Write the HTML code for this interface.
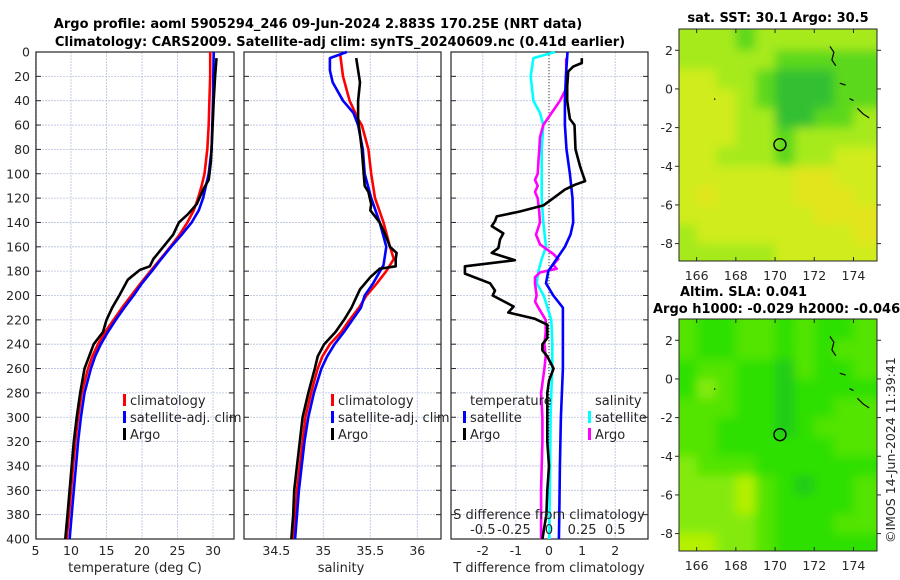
<!DOCTYPE html>
<html><head><meta charset="utf-8"><style>
html,body{margin:0;padding:0;background:#fff;}
svg{display:block;font-family:"DejaVu Sans","Liberation Sans",sans-serif;}
.tk{font-size:12.5px;fill:#262626;}
.tt{font-size:13px;font-weight:bold;fill:#000;}
.lg{font-size:13px;fill:#262626;}
</style></head><body>
<svg id="chart" width="900" height="580" viewBox="0 0 900 580" xmlns="http://www.w3.org/2000/svg">
<defs>
<filter id="blur" x="-5%" y="-5%" width="110%" height="110%"><feGaussianBlur stdDeviation="5"/></filter>
<clipPath id="clipSst"><rect x="679" y="29" width="198" height="232"/></clipPath>
<clipPath id="clipSla"><rect x="679" y="319" width="198" height="232"/></clipPath>
</defs>
<text class="tt" x="318" y="28" text-anchor="middle">Argo profile: aoml 5905294_246 09-Jun-2024 2.883S 170.25E (NRT data)</text>
<text class="tt" x="340" y="46" text-anchor="middle">Climatology: CARS2009. Satellite-adj clim: synTS_20240609.nc (0.41d earlier)</text>
<text class="tt" x="778" y="22" text-anchor="middle">sat. SST: 30.1 Argo: 30.5</text>
<text class="tt" x="680" y="296">Altim. SLA: 0.041</text>
<text class="tt" x="653" y="313">Argo h1000: -0.029 h2000: -0.046</text>
<text class="tk" transform="translate(895,543) rotate(-90)">©IMOS 14-Jun-2024 11:39:41</text>
<g id="plots"></g>
</svg>
<script>
const depthTicks=[0,20,40,60,80,100,120,140,160,180,200,220,240,260,280,300,320,340,360,380,400];
const tTicks=[5,10,15,20,25,30];
const sTicks=[34.5,35,35.5,36];
const tdTicks=[-2,-1,0,1,2];
const sdTickVals=[-0.5,-0.25,0,0.25,0.5];
const sdTickLabels=["-0.5","-0.25","0","0.25","0.5"];

const tClimD=[0,20,40,60,80,100,110,120,130,140,150,160,170,180,190,200,210,220,230,240,250,260,280,300,320,340,360,380,400];
const tClimV=[29.6,29.6,29.5,29.4,29.2,28.8,28.4,27.9,27.3,26.4,25.3,24.0,22.6,21.2,19.8,18.5,17.2,16.0,14.8,13.8,13.0,12.4,11.5,11.0,10.6,10.3,10.0,9.7,9.4];
const tSatD=[0,40,80,100,110,120,130,140,150,160,170,180,190,200,210,220,230,240,250,260,280,300,320,340,360,380,400];
const tSatV=[30.1,30.0,29.8,29.4,29.0,28.6,28.0,27.0,25.6,24.1,22.7,21.4,20.0,18.8,17.5,16.3,15.2,14.2,13.4,12.8,11.9,11.4,11.0,10.7,10.4,10.1,9.8];
const tArgoD=[5,20,40,67,90,105,112,125,133,140,150,160,170,176,179,187,200,210,220,230,240,260,280,300,320,340,360,380,400];
const tArgoV=[30.5,30.3,30.1,29.9,29.7,29.4,28.7,27.7,26.5,25.2,24.4,23.0,21.6,21.1,19.7,18.0,16.8,15.8,15.0,14.5,13.2,11.9,11.3,10.8,10.4,10.1,9.8,9.5,9.2];

const sClimD=[2,20,40,55,60,80,100,120,140,160,170,180,190,200,210,220,230,240,250,260,280,300,320,340,360,380,400];
const sClimV=[35.18,35.21,35.28,35.37,35.41,35.48,35.51,35.55,35.64,35.71,35.75,35.67,35.57,35.46,35.38,35.28,35.19,35.07,34.99,34.94,34.87,34.81,34.78,34.75,34.72,34.70,34.68];
const sSatD=[0,5,15,25,40,50,60,80,100,120,140,160,175,190,200,210,220,230,240,250,260,280,300,320,340,360,380,400];
const sSatV=[35.25,35.07,35.07,35.10,35.21,35.32,35.37,35.42,35.44,35.51,35.60,35.67,35.64,35.53,35.44,35.40,35.31,35.22,35.12,35.04,34.98,34.90,34.84,34.80,34.77,34.74,34.72,34.70];
const sArgoD=[5,25,40,55,80,100,110,115,125,130,140,150,160,165,170,176,178,185,195,200,210,220,230,240,250,260,280,300,320,340,360,380,400];
const sArgoV=[35.35,35.39,35.37,35.37,35.41,35.43,35.44,35.48,35.51,35.50,35.60,35.66,35.71,35.78,35.77,35.77,35.60,35.50,35.39,35.36,35.30,35.22,35.13,35.01,34.94,34.91,34.84,34.78,34.75,34.72,34.69,34.68,34.66];

const dtArgoD=[5,9,12,16,28,40,55,60,80,94,102,106,109,113,119,126,131,135,139,143,149,154,161,165,171,176,182,190,196,200,209,214,219,224,235,240,245,250,260,270,280,300,320,340,360,380,400];
const dtArgoV=[0.99,0.99,0.73,0.58,0.55,0.55,0.63,0.77,0.80,0.94,1.04,1.09,0.79,0.48,0.18,-0.17,-0.88,-1.58,-1.63,-1.73,-1.38,-1.48,-1.53,-1.73,-1.03,-2.54,-2.54,-1.78,-1.63,-1.7,-1.07,-1.23,-0.44,-0.05,-0.05,-0.2,-0.2,-0.05,0.14,0.0,-0.05,-0.05,-0.05,0.0,-0.05,-0.08,-0.2];
const dtSatD=[0,20,40,60,80,100,120,140,150,160,170,180,190,200,210,220,240,260,300,340,380,400];
const dtSatV=[0.56,0.51,0.48,0.48,0.53,0.63,0.71,0.73,0.65,0.48,0.23,-0.02,-0.09,0.13,0.42,0.42,0.42,0.42,0.36,0.33,0.31,0.30];
const dsSatD=[0,5,20,40,50,60,80,100,120,140,160,170,180,190,200,220,240,260,280,300,340,380,400];
const dsSatV=[0.045,-0.118,-0.138,-0.118,-0.068,-0.043,-0.055,-0.055,-0.055,-0.043,-0.023,-0.055,-0.08,-0.093,-0.04,0.017,0.025,0.025,0.017,0.012,0.008,0.004,0.002];
const dsArgoD=[5,20,30,40,50,60,70,80,90,100,105,110,115,120,130,140,150,158,162,166,170,173,175,178,181,185,190,200,205,210,220,230,240,250,260,280,300,320,340,360,380,400];
const dsArgoV=[0.13,0.13,0.13,0.083,0.02,-0.043,-0.068,-0.073,-0.08,-0.085,-0.106,-0.085,-0.106,-0.085,-0.075,-0.068,-0.098,-0.068,-0.018,0.033,0.07,0.045,0.033,0.058,-0.068,-0.106,-0.106,-0.094,-0.105,-0.08,-0.025,-0.025,-0.035,-0.025,-0.035,-0.06,-0.05,-0.05,-0.055,-0.06,-0.06,-0.06];

const lonTicks=[166,168,170,172,174];
const latTicks=[2,0,-2,-4,-6,-8];
const sstColors=["#e2e41c","#d0ec1e","#a6ea1e","#5cd81e","#32c030"];
const sstGrid=[
[2,2,2,3,2,2,2,2,2,2],[2,2,2,2,2,3,3,3,3,3],[1,1,2,2,3,4,4,4,3,3],[1,1,1,2,3,4,4,4,3,3],
[1,1,1,2,2,4,4,3,3,2],[1,1,1,2,2,3,2,2,2,2],[1,1,2,2,2,3,2,2,1,1],[1,1,1,1,1,1,0,0,1,1],
[1,0,1,1,1,1,0,0,0,1],[1,1,1,1,1,1,1,0,0,0],[2,1,1,1,1,1,1,1,1,0],[2,2,2,2,2,1,1,1,1,1]];
const slaColors=["#2ee004","#52e404","#84ea08","#b4f004","#22cc14"];
const slaGrid=[
[1,0,0,1,1,0,1,0,0,1],[1,0,0,1,1,0,1,0,1,1],[0,1,1,0,0,4,1,0,0,1],[0,2,1,0,0,4,0,0,0,0],
[1,1,1,0,0,4,0,0,1,1],[1,1,0,0,0,4,0,1,1,1],[1,1,0,0,0,0,0,0,1,1],[2,1,1,1,0,0,0,0,0,0],
[2,2,2,3,1,0,4,0,0,1],[2,2,2,3,1,0,0,0,0,1],[2,2,2,2,1,0,0,0,1,1],[3,3,2,2,1,0,0,0,0,0]];
const argoLon=170.25, argoLat=-2.883;

const NS="http://www.w3.org/2000/svg";
const root=document.getElementById('plots');
function el(tag,attrs,parent){const e=document.createElementNS(NS,tag);for(const k in attrs)e.setAttribute(k,attrs[k]);(parent||root).appendChild(e);return e;}
const top0=52,bot0=539;
const yD=d=>top0+(bot0-top0)*d/400;
const xT=v=>35.5+(v-5)*7.1;
const xS=v=>276.3+(v-34.5)*94;
const xDT=v=>549+v*33.1;
const xDS=v=>549+v*132.4;

function panel(name,x0,x1,xticks,xf,labels){
  const g=el('g',{});
  
  
  xticks.forEach((t,i)=>{const x=xf(t);const l=el('line',{x1:x,x2:x,y1:top0,y2:bot0,stroke:'#b8c0e0','stroke-width':0.8,'stroke-dasharray':'2,1'},g);
    
    const tx=el('text',{x:x,y:555,'text-anchor':'middle',class:'tk'},g);tx.textContent=labels?labels[i]:String(t);
    });
  depthTicks.forEach(d=>{const y=yD(d);const l=el('line',{x1:x0,x2:x1,y1:y,y2:y,stroke:'#b8c0e0','stroke-width':0.8,'stroke-dasharray':'2,1'},g);
    
    el('line',{x1:x0,x2:x0+5,y1:y,y2:y,stroke:'#262626'},g);el('line',{x1:x1-5,x2:x1,y1:y,y2:y,stroke:'#262626'},g);});
  const r=el('rect',{x:x0,y:top0,width:x1-x0,height:bot0-top0,fill:'none',stroke:'#262626','stroke-width':1.2},g);
  
  return g;
}
function series(g,name,ds,vs,xf,color,w){
  const p=ds.map((d,i)=>(i?'L':'M')+xf(vs[i]).toFixed(1)+','+yD(d).toFixed(1)).join('');
  const e=el('path',{d:p,fill:'none',stroke:color,'stroke-width':w||2.6,'stroke-linejoin':'round'},g);
  
  
}
function legend(g,x,y,color,label,name){
  const m=el('rect',{x:x,y:y-11,width:3,height:12,fill:color},g);
  
  const t=el('text',{x:x+7,y:y,class:'lg'},g);t.textContent=label;
  
}
function txt(g,x,y,s,name,anchor){const t=el('text',{x:x,y:y,class:'lg','text-anchor':anchor||'start'},g);t.textContent=s;
  return t;}

const p1=panel('temperature-panel',36,234,tTicks,xT);
depthTicks.forEach(d=>{const t=el('text',{x:30,y:yD(d)+4.5,'text-anchor':'end',class:'tk'},p1);t.textContent=d;
  });
series(p1,'temp-climatology-line',tClimD,tClimV,xT,'#ff0000');
series(p1,'temp-satellite-line',tSatD,tSatV,xT,'#0000ff');
series(p1,'temp-argo-line',tArgoD,tArgoV,xT,'#000000');
legend(p1,123,405,'#ff0000','climatology','legend-climatology');
legend(p1,123,422,'#0000ff','satellite-adj. clim','legend-satellite');
legend(p1,123,439,'#000000','Argo','legend-argo');
txt(p1,135,572,'temperature (deg C)','x-axis-title-temperature','middle');

const p2=panel('salinity-panel',244,441,sTicks,xS);
series(p2,'sal-climatology-line',sClimD,sClimV,xS,'#ff0000');
series(p2,'sal-satellite-line',sSatD,sSatV,xS,'#0000ff');
series(p2,'sal-argo-line',sArgoD,sArgoV,xS,'#000000');
legend(p2,331,405,'#ff0000','climatology','legend-climatology');
legend(p2,331,422,'#0000ff','satellite-adj. clim','legend-satellite');
legend(p2,331,439,'#000000','Argo','legend-argo');
txt(p2,341,572,'salinity','x-axis-title-salinity','middle');

const p3=panel('difference-panel',451,648,tdTicks,xDT);
const z=el('line',{x1:549,x2:549,y1:top0,y2:bot0,stroke:'#333','stroke-width':1,'stroke-dasharray':'1,2'},p3);

series(p3,'sdiff-satellite-line',dsSatD,dsSatV,xDS,'#00ffff');
series(p3,'sdiff-argo-line',dsArgoD,dsArgoV,xDS,'#ff00ff');
series(p3,'tdiff-satellite-line',dtSatD,dtSatV,xDT,'#0000ff');
series(p3,'tdiff-argo-line',dtArgoD,dtArgoV,xDT,'#000000');
txt(p3,470,405,'temperature','legend-temperature-header');
txt(p3,595,405,'salinity','legend-salinity-header');
legend(p3,463,422,'#0000ff','satellite','legend-t-satellite');
legend(p3,463,439,'#000000','Argo','legend-t-argo');
legend(p3,588,422,'#00ffff','satellite','legend-s-satellite');
legend(p3,588,439,'#ff00ff','Argo','legend-s-argo');
txt(p3,549,519,'S difference from climatology','s-diff-axis-title','middle');
sdTickVals.forEach((v,i)=>{txt(p3,xDS(v)+(v===-0.25?-2:0),534,sdTickLabels[i],'s-diff-tick-label','middle');});
txt(p3,549,572,'T difference from climatology','x-axis-title-tdiff','middle');

function map(name,x0,x1,y0,y1,lon0,lon1,lat0,lat1,grid,colors,lonY,clip){
  const g=el('g',{});
  
  
  const mx=lo=>x0+(lo-lon0)/(lon1-lon0)*(x1-x0);
  const my=la=>y0+(lat0-la)/(lat0-lat1)*(y1-y0);
  const cg=el('g',{'clip-path':'url(#'+clip+')'},g);
  const bg=el('g',{filter:'url(#blur)'},cg);
  grid.forEach((row,ri)=>row.forEach((c,ci)=>{
    const la=3-ri, la2=2-ri;
    const lo=165+ci, lo2=166+ci;
    const xa=ci===0?x0-10:mx(lo), xb=ci===row.length-1?x1+10:mx(lo2);
    const ya=ri===0?y0-10:my(la), yb=ri===grid.length-1?y1+10:my(la2);
    const r=el('rect',{x:xa,y:ya,width:xb-xa+0.5,height:yb-ya+0.5,fill:colors[c]},bg);
    
    
  }));
  const coast=[[[172.8,2.2],[173.0,1.9],[172.9,1.5],[173.1,1.2]],[[173.8,-0.5],[174.0,-0.6]],[[174.2,-1.0],[174.5,-1.3],[174.8,-1.5]],[[173.3,0.3],[173.6,0.2]],[[166.9,-0.5],[166.95,-0.55]]];
  coast.forEach(c=>{const p=el('path',{d:c.map((q,i)=>(i?'L':'M')+mx(q[0])+','+my(q[1])).join(''),fill:'none',stroke:'#000','stroke-width':1.2},g);
    });
  const ci=el('circle',{cx:mx(argoLon),cy:my(argoLat),r:6,fill:'none',stroke:'#000','stroke-width':1.4},g);
  
  const fr=el('rect',{x:x0,y:y0,width:x1-x0,height:y1-y0,fill:'none',stroke:'#262626','stroke-width':1},g);
  
  lonTicks.forEach(lo=>{const x=mx(lo);el('line',{x1:x,x2:x,y1:y0,y2:y0+4,stroke:'#262626'},g);el('line',{x1:x,x2:x,y1:y1-4,y2:y1,stroke:'#262626'},g);
    const t=el('text',{x:x,y:lonY,'text-anchor':'middle',class:'tk'},g);t.textContent=lo;
    });
  latTicks.forEach(la=>{const y=my(la);el('line',{x1:x0-4,x2:x0,y1:y,y2:y,stroke:'#262626'},g);el('line',{x1:x1,x2:x1+4,y1:y,y2:y,stroke:'#262626'},g);
    const t=el('text',{x:x0-6,y:y+4.5,'text-anchor':'end',class:'tk'},g);t.textContent=la;
    });
}
map('sst-map',679,877,29,261,165.1,175.2,3.1,-8.9,sstGrid,sstColors,280,'clipSst');
map('sla-map',679,877,319,551,165.1,175.2,3.1,-8.9,slaGrid,slaColors,570,'clipSla');
</script>
</body></html>
